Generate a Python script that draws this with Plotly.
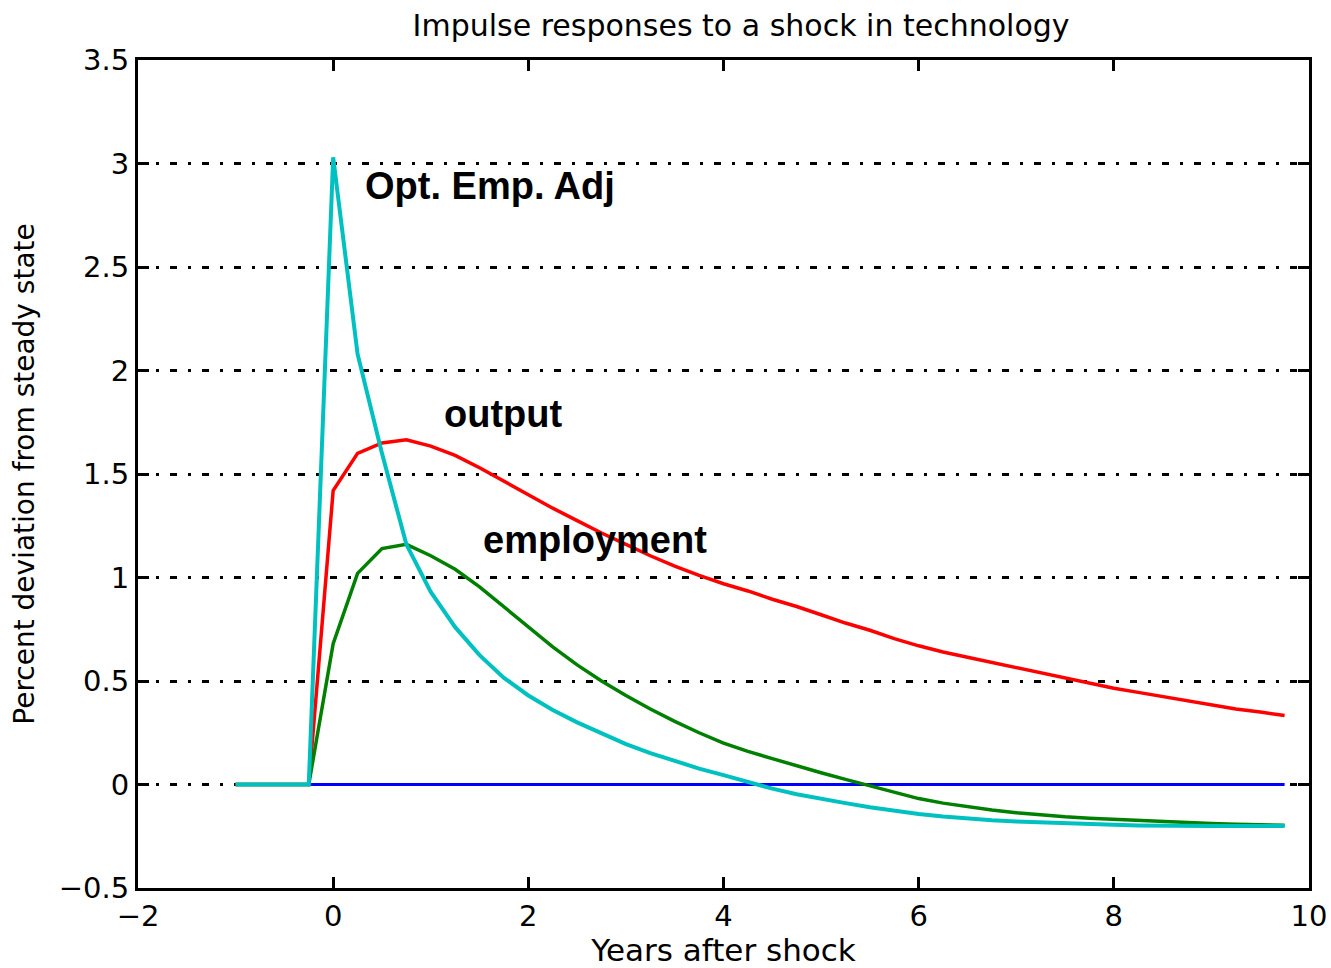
import plotly.graph_objects as go

# Quarterly time axis (years after shock)
years = [-1.0, -0.75, -0.5, -0.25,
         0.0, 0.25, 0.5, 0.75, 1.0, 1.25, 1.5, 1.75, 2.0, 2.25, 2.5, 2.75,
         3.0, 3.25, 3.5, 3.75, 4.0, 4.25, 4.5, 4.75, 5.0, 5.25, 5.5, 5.75,
         6.0, 6.25, 6.5, 6.75, 7.0, 7.25, 7.5, 7.75, 8.0, 8.25, 8.5, 8.75,
         9.0, 9.25, 9.5, 9.75]

output = [0, 0, 0, 0,
          1.42, 1.60, 1.65, 1.665, 1.635, 1.59, 1.53, 1.465, 1.40, 1.335, 1.275, 1.215,
          1.16, 1.105, 1.055, 1.01, 0.97, 0.935, 0.895, 0.86, 0.82, 0.78, 0.745, 0.705,
          0.67, 0.64, 0.615, 0.59, 0.565, 0.54, 0.515, 0.49, 0.465, 0.445, 0.425, 0.405,
          0.385, 0.365, 0.35, 0.333]

employment = [0, 0, 0, 0,
              0.68, 1.02, 1.14, 1.16, 1.105, 1.04, 0.955, 0.86, 0.765, 0.665, 0.578, 0.50,
              0.43, 0.365, 0.305, 0.25, 0.20, 0.16, 0.125, 0.09, 0.057, 0.025, -0.007, -0.04,
              -0.068, -0.09, -0.108, -0.123, -0.136, -0.147, -0.156, -0.163, -0.169, -0.175, -0.18, -0.185,
              -0.189, -0.192, -0.195, -0.197]

opt_emp_adj = [0, 0, 0, 0,
               3.03, 2.08, 1.60, 1.16, 0.93, 0.76, 0.625, 0.515, 0.43, 0.36, 0.30, 0.245,
               0.195, 0.152, 0.113, 0.077, 0.045, 0.01, -0.02, -0.047, -0.07, -0.09, -0.11, -0.128,
               -0.143, -0.155, -0.165, -0.173, -0.179, -0.184, -0.188, -0.192, -0.195, -0.198, -0.2, -0.2,
               -0.2, -0.2, -0.2, -0.2]

zero_x = [-0.25, 9.75]
zero_y = [0, 0]

x_ticks = [-2, 0, 2, 4, 6, 8, 10]
y_ticks = [-0.5, 0, 0.5, 1, 1.5, 2, 2.5, 3, 3.5]

labels = [
    ("Opt. Emp. Adj", 0.31, 2.89),
    ("output", 1.12, 1.79),
    ("employment", 1.52, 1.18),
]

TICK_FONT = dict(family="DejaVu Sans", size=29, color="black")

fig = go.Figure()
fig.add_trace(go.Scatter(x=zero_x, y=zero_y, mode="lines",
                         line=dict(color="#0000FF", width=3), name="zero"))
fig.add_trace(go.Scatter(x=years, y=output, mode="lines",
                         line=dict(color="#FF0000", width=3.5), name="output"))
fig.add_trace(go.Scatter(x=years, y=employment, mode="lines",
                         line=dict(color="#008000", width=3.5), name="employment"))
fig.add_trace(go.Scatter(x=years, y=opt_emp_adj, mode="lines",
                         line=dict(color="#00C0C0", width=4), name="Opt. Emp. Adj"))

for text, lx, ly in labels:
    fig.add_annotation(x=lx, y=ly, text=text, showarrow=False,
                       xanchor="left", yanchor="middle",
                       font=dict(family="Liberation Sans", size=38, color="black", weight="bold"))

fig.update_layout(
    width=1331, height=968,
    margin=dict(l=138, r=22, t=60, b=80),
    paper_bgcolor="white", plot_bgcolor="white",
    showlegend=False,
    title=dict(text="Impulse responses to a shock in technology",
               x=0.515, xref="paper", xanchor="center",
               y=1 - 25 / 968, yref="container", yanchor="middle",
               font=dict(family="DejaVu Sans", size=30, color="black")),
)

fig.update_xaxes(
    range=[-2, 10], tickvals=x_ticks,
    showline=True, linecolor="black", linewidth=3, mirror="ticks",
    ticks="inside", ticklen=11, tickwidth=3, tickcolor="black",
    showgrid=False, zeroline=False, automargin=False,
    tickfont=TICK_FONT,
    title=dict(text="Years after shock", standoff=4,
               font=dict(family="DejaVu Sans", size=31, color="black")),
)
fig.update_yaxes(
    range=[-0.5, 3.5], tickvals=y_ticks,
    showline=True, linecolor="black", linewidth=3, mirror="ticks",
    ticks="inside", ticklen=11, tickwidth=3, tickcolor="black",
    showgrid=True, gridcolor="black", gridwidth=2.5, griddash="7px,11px,3px,11px",
    zeroline=False, ticklabelstandoff=0, automargin=False,
    tickfont=TICK_FONT,
    title=dict(text="Percent deviation from steady state", standoff=16,
               font=dict(family="DejaVu Sans", size=28, color="black")),
)

# Remove the default page margin so the 1331x968 figure fills the window exactly.
fig.write_html("out.html",
               config={"displayModeBar": False},
               post_script="document.body.style.margin='0';document.body.style.overflow='hidden';")
